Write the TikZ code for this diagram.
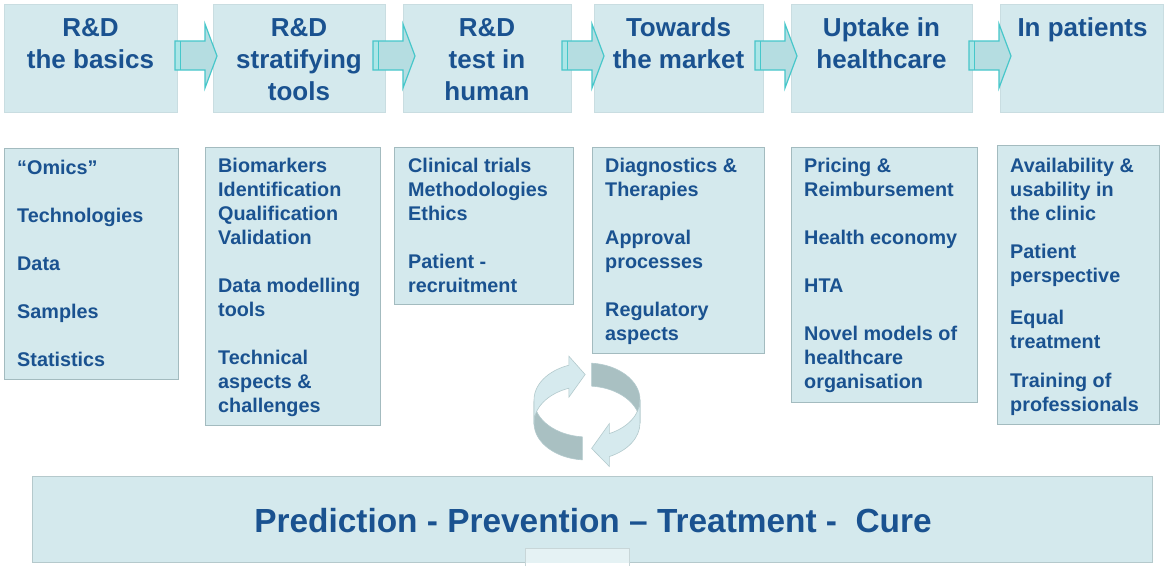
\documentclass[tikz,border=0pt]{standalone}
\usepackage{fontspec}
\setmainfont{Liberation Sans}
\definecolor{tb}{HTML}{1A5290}
\definecolor{boxfill}{HTML}{D4E9ED}
\definecolor{boxline}{HTML}{A3BBBF}
\definecolor{hdrline}{HTML}{C9DDE1}
\definecolor{arrfill}{HTML}{B5DDE1}
\definecolor{arrline}{HTML}{46C7CA}
\definecolor{ringlight}{HTML}{D6EAEE}
\definecolor{ringgray}{HTML}{A9C0C2}
\definecolor{ringedge}{HTML}{B3CACD}
\newcommand\dstrut{\rule{0pt}{16pt}}
\newcommand\hstrut{\rule{0pt}{22pt}}
\begin{document}
\begin{tikzpicture}[x=1pt,y=-1pt,
 hdrbox/.style={draw=hdrline,fill=boxfill,line width=0.6pt,anchor=north west,inner sep=0pt,minimum height=108pt},
 detbox/.style={draw=boxline,fill=boxfill,line width=0.9pt,anchor=north west,inner sep=0pt},
 hdrtext/.style={anchor=north,inner sep=0pt,align=center,text=tb,font=\fontsize{26}{32}\selectfont\bfseries},
 dettext/.style={anchor=north west,inner sep=0pt,align=left,text=tb,font=\fontsize{19.8}{24}\selectfont\bfseries},
 blockarrow/.style={fill=arrfill,draw=arrline,line width=1.2pt,line join=miter},
 ringl/.style={fill=ringlight,draw=ringedge,line width=0.6pt},
 ringg/.style={fill=ringgray,draw=ringedge,line width=0.6pt},
]
\useasboundingbox (0,0) rectangle (1165,566);
\fill[white] (0,0) rectangle (1165,566);

% header boxes
\node[hdrbox,minimum width=173pt] (h1) at (4,4) {};
\node[hdrbox,minimum width=172pt] (h2) at (213,4) {};
\node[hdrbox,minimum width=168pt] (h3) at (403,4) {};
\node[hdrbox,minimum width=169pt] (h4) at (594,4) {};
\node[hdrbox,minimum width=181pt] (h5) at (791,4) {};
\node[hdrbox,minimum width=163pt] (h6) at (1000,4) {};

\node[hdrtext] (ht1) at (90.5,14.5) {\hstrut R\&D\\the basics};
\node[hdrtext] (ht2) at (299,14.5) {\hstrut R\&D\\stratifying\\tools};
\node[hdrtext] (ht3) at (487,14.5) {\hstrut R\&D\\test in\\human};
\node[hdrtext] (ht4) at (678.5,14.5) {\hstrut Towards\\the market};
\node[hdrtext] (ht5) at (881.5,14.5) {\hstrut Uptake in\\healthcare};
\node[hdrtext] (ht6) at (1082.5,14.5) {\hstrut In patients};

% block arrows between header boxes
\foreach \xs in {175,373,562,755,969}{
  \draw[blockarrow] (\xs,41) -- (\xs+30,41) -- (\xs+30,24) -- (\xs+42,56) -- (\xs+30,88) -- (\xs+30,70) -- (\xs,70) -- cycle;
  \fill[arrline!45] (\xs+0.6,41.6) rectangle (\xs+5,69.4);
  \draw[arrline,line width=1pt] (\xs+5,41) -- (\xs+5,70);
}

% detail boxes
\node[detbox,minimum width=174pt,minimum height=231pt] (d1) at (4,148) {};
\node[detbox,minimum width=175pt,minimum height=278pt] (d2) at (205,147) {};
\node[detbox,minimum width=179pt,minimum height=157pt] (d3) at (394,147) {};
\node[detbox,minimum width=172pt,minimum height=206pt] (d4) at (592,147) {};
\node[detbox,minimum width=186pt,minimum height=255pt] (d5) at (791,147) {};
\node[detbox,minimum width=162pt,minimum height=279pt] (d6) at (997,145) {};

\node[dettext] (t1) at (17,158) {\dstrut “Omics”\\[24pt]Technologies\\[24pt]Data\\[24pt]Samples\\[24pt]Statistics};
\node[dettext] (t2) at (218,156) {\dstrut Biomarkers\\Identification\\Qualification\\Validation\\[24pt]Data modelling\\tools\\[24pt]Technical\\aspects \&\\challenges};
\node[dettext] (t3) at (408,156) {\dstrut Clinical trials\\Methodologies\\Ethics\\[24pt]Patient -\\recruitment};
\node[dettext] (t4) at (605,156) {\dstrut Diagnostics \&\\Therapies\\[24pt]Approval\\processes\\[24pt]Regulatory\\aspects};
\node[dettext] (t5) at (804,156) {\dstrut Pricing \&\\Reimbursement\\[24pt]Health economy\\[24pt]HTA\\[24pt]Novel models of\\healthcare\\organisation};
\node[dettext] (t6) at (1010,156) {\dstrut Availability \&\\usability in\\the clinic\\[14pt]Patient\\perspective\\[18pt]Equal\\treatment\\[15pt]Training of\\professionals};

% cycle arrows
\path[ringg] (534.03,401.29) arc[start angle=-182,end angle=-265,x radius=53,y radius=37]
  -- (582.38,459.86) arc[start angle=-265,end angle=-182,x radius=53,y radius=37] -- cycle;
\path[ringl] (534.03,401.29) arc[start angle=-182,end angle=-110,x radius=53,y radius=37]
  -- (568.87,356.2) -- (585.15,374.5) -- (568.87,397.2) -- (568.87,388.23)
  arc[start angle=-110,end angle=-182,x radius=53,y radius=37] -- cycle;
\path[ringg] (591.62,363.14) arc[start angle=-85,end angle=0,x radius=53,y radius=37]
  -- (640,423) arc[start angle=0,end angle=-85,x radius=53,y radius=37] -- cycle;
\path[ringl] (640,400) arc[start angle=0,end angle=65,x radius=53,y radius=37]
  -- (609.4,423.5) -- (591.62,448.4) -- (609.4,466.5) -- (609.4,456.53)
  arc[start angle=65,end angle=0,x radius=53,y radius=37] -- cycle;

% bottom box
\node[draw=boxline!80,fill=boxfill,line width=0.8pt,anchor=north west,inner sep=0pt,minimum width=1120pt,minimum height=86pt] (bb) at (32,476) {};
\fill[boxfill!60!white] (525,548) rectangle (629,562.5);
\fill[white] (525,563) rectangle (629,566);
\draw[boxline!60,line width=0.5pt] (525,566) -- (525,548) -- (629,548) -- (629,566);
\node[anchor=base,inner sep=0pt,text=tb,font=\fontsize{33.4}{40}\selectfont\bfseries] (bt) at (593,532) {Prediction - Prevention – Treatment -\ \ Cure};
\end{tikzpicture}
\end{document}
